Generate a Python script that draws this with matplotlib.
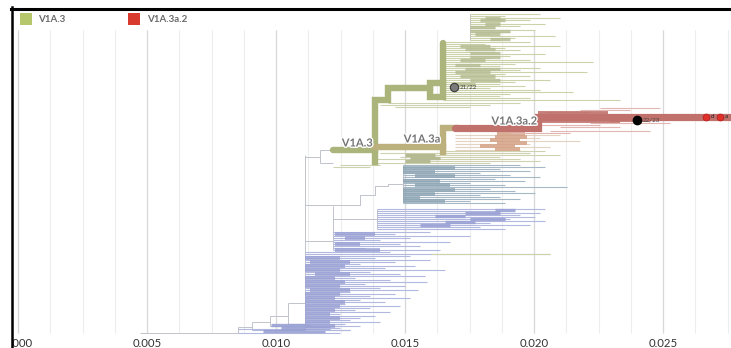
import numpy as np
import matplotlib
matplotlib.use("Agg")
import matplotlib.pyplot as plt
from matplotlib.lines import Line2D
from matplotlib.patches import Rectangle
import matplotlib.patheffects as pe

plt.rcParams['font.family'] = ['Lato', 'DejaVu Sans']

K = 1e-3  # all divergence values below are given in units of 0.001

# ---------------- axis / legend text ----------------
tick_values = [0.000, 0.005, 0.010, 0.015, 0.020, 0.025]
tick_labels = ["0.000", "0.005", "0.010", "0.015", "0.020", "0.025"]
legend_labels = ["V1A.3", "V1A.3a.2"]
clade_labels = ["V1A.3", "V1A.3a", "V1A.3a.2"]
node_labels = ["21/22", "22/23"]

# ---------------- green clade (V1A.3, upper) ----------------
green_node_a = 17.52
green_ends_a = [20.23, 18.88, 21.01, 19.84, 18.68, 20.43, 19.46, 18.49, 20.04, 19.07,
                18.29, 20.81, 19.26, 18.68]
green_node_b = 16.47
green_ends_b = [19.84, 18.10, 21.01, 18.88, 19.46, 18.49, 20.43, 19.07, 18.29, 19.84,
                22.29, 19.26, 18.68, 20.23, 19.46, 22.05, 18.88, 19.84, 18.49, 20.62,
                19.26, 18.68, 19.65, 18.29, 20.23, 21.51, 19.07, 18.68, 19.84, 23.33]
green_inner_row = [18, 20, 24, 27, 31, 34, 39, 46, 49, 53, 57, 60, 65, 69, 72, 76, 80, 84]
green_inner_x0 = [18.10, 17.91, 18.10, 17.52, 17.52, 17.71, 18.29, 17.13, 17.33, 17.52,
                  17.52, 17.13, 16.94, 17.33, 16.94, 17.13, 17.52, 16.94]
green_inner_x1 = [18.68, 18.88, 18.68, 18.49, 19.07, 18.68, 19.07, 18.29, 18.49, 18.68,
                  18.68, 18.10, 17.91, 18.68, 18.29, 18.49, 18.68, 17.71]

# ---------------- light olive lines around the V1A.3 backbone ----------------
olive_row = [103, 105, 107, 151, 153, 155, 157, 159, 161, 163, 165, 167]
olive_x0 = [14.34, 14.03, 14.61, 16.47, 14.03, 15.19, 14.81, 13.84, 15.00, 13.84, 12.48, 12.21]
olive_x1 = [19.46, 18.29, 17.52, 20.43, 19.84, 21.01, 18.68, 19.46, 20.23, 18.29, 14.03, 13.64]
olive_inner_row = [155, 158, 161]
olive_inner_x0 = [15.00, 15.19, 15.00]
olive_inner_x1 = [16.16, 16.36, 15.97]

# ---------------- backbone lineages ----------------
v1a3_x = [12.21, 13.84, 13.84, 14.34, 14.34, 15.97, 15.97, 16.47, 16.47]
v1a3_y = [150, 150, 100, 100, 88, 88, 83, 83, 43]
v1a3_box_x = [15.97, 15.97, 16.47, 16.47]
v1a3_box_y = [88, 97, 97, 83]
v1a3_down_x = [13.84, 13.84]
v1a3_down_y = [150, 162]
v1a3a_x = [13.84, 16.47, 16.47, 16.94]
v1a3a_y = [147, 147, 128, 128]
v1a3a_down_x = [16.47, 16.47]
v1a3a_down_y = [147, 152]
v1a3a2_x = [16.94, 20.16, 20.16, 27.60]
v1a3a2_y = [128, 128, 117, 117]

# ---------------- red clade (V1A.3a.2) ----------------
red_inner_row = [113, 121, 120]
red_inner_x0 = [20.16, 20.16, 22.95]
red_inner_x1 = [22.85, 23.33, 24.50]
red_tip_row = [108, 110, 112, 123, 125, 127, 131, 133]
red_tip_x0 = [22.56, 21.78, 20.43, 22.17, 20.23, 21.01, 20.62, 19.07]
red_tip_x1 = [24.88, 23.72, 22.17, 25.27, 22.56, 23.33, 24.50, 21.40]

# ---------------- orange subclade ----------------
orange_row = [134, 137, 140, 143, 146, 149]
orange_x0 = [18.57, 18.49, 18.29, 18.57, 17.91, 18.49]
orange_x1 = [19.65, 19.73, 19.46, 19.73, 19.26, 19.46]
tan_node = 16.94
tan_ends = [21.01, 20.23, 21.78, 19.84, 20.62, 19.46]

# ---------------- teal clade ----------------
teal_node = 14.92
teal_ends = [19.46, 20.43, 18.68, 19.84, 17.91, 19.07, 20.23, 18.49, 19.65, 17.52,
             18.88, 21.28, 18.29, 19.26, 20.04, 17.91, 18.68, 19.46, 17.52, 18.88]
teal_inner_row = [168, 172, 176, 181, 185, 190, 194, 198, 201]
teal_inner_x0 = [14.92, 14.92, 15.39, 14.92, 15.39, 14.92, 14.92, 14.92, 14.92]
teal_inner_x1 = [16.94, 16.16, 16.94, 16.36, 16.74, 16.94, 16.16, 15.58, 16.55]
teal_stem_x = [11.12, 13.26, 13.26, 13.84, 13.84, 14.34, 14.34, 14.92]
teal_stem_y = [205, 205, 195, 195, 186, 186, 184, 184]

# ---------------- blue clade ----------------
blue_node_a = 13.92
blue_ends_a = [20.43, 18.68, 20.23, 19.46, 20.04, 19.07, 20.43, 18.29, 19.84, 17.91, 18.88]
blue_inner_a_row = [210, 213, 216, 219, 222, 225]
blue_inner_a_x0 = [18.49, 17.33, 16.16, 17.52, 16.55, 15.58]
blue_inner_a_x1 = [19.26, 18.68, 17.33, 18.88, 17.71, 16.74]
blue_node_b1 = 12.21
blue_node_b2 = 11.12
blue_ends_b = [15.97, 14.61, 17.52, 15.19, 14.03, 16.74, 14.81, 15.58, 13.45, 16.36,
               14.42, 20.62, 15.19, 13.84, 15.97, 14.61, 13.26, 15.39, 14.22, 16.55,
               13.64, 14.81, 15.78, 13.06, 14.42, 15.85, 13.45, 15.00, 14.03, 15.50,
               12.87, 14.61, 13.64, 15.19, 13.26, 14.22, 12.67, 14.81, 13.64, 13.06,
               14.42, 12.48, 13.84, 13.26, 12.87, 14.03, 12.67, 13.26, 12.48, 12.87]
blue_inner_b_row = [234, 238, 244, 250, 258, 262, 266, 270, 274, 278, 282, 286, 290,
                    294, 298, 302, 306, 310, 314, 318, 322, 326]
blue_inner_b_x0 = [12.29, 12.67, 12.29, 12.29, 11.12, 11.32, 11.12, 11.12, 11.51, 11.12,
                   11.12, 11.12, 11.32, 11.12, 11.12, 11.12, 11.12, 11.12, 11.12, 11.12,
                   11.12, 11.12]
blue_inner_b_x1 = [13.84, 13.45, 13.26, 14.03, 12.48, 12.87, 12.67, 12.48, 12.87, 12.29,
                   12.67, 12.48, 12.87, 12.48, 12.29, 12.67, 12.48, 12.29, 12.09, 12.48,
                   12.09, 12.29]

# ---------------- basal backbone ----------------
basal_h_row = [333, 327, 322, 316, 303, 157, 150, 163, 241, 219]
basal_h_x0 = [4.73, 8.53, 9.07, 9.77, 10.47, 11.12, 11.71, 11.71, 11.12, 12.21]
basal_h_x1 = [8.53, 9.07, 9.77, 10.47, 11.12, 11.71, 12.21, 12.21, 12.21, 13.92]
basal_v_x = [8.53, 9.07, 9.77, 10.47, 11.12, 11.71, 12.21, 13.92, 17.52]
basal_v_y0 = [327, 322, 316, 303, 155, 150, 206, 209, 14]
basal_v_y1 = [333, 330, 326, 324, 330, 163, 250, 229, 40]
basal_tip_row = [333, 330, 326, 324, 329]
basal_tip_x0 = [8.53, 9.07, 9.77, 10.47, 8.53]
basal_tip_x1 = [12.48, 12.87, 12.48, 12.29, 11.71]
basal_inner_row = [331, 328, 325]
basal_inner_x0 = [9.50, 10.20, 9.80]
basal_inner_x1 = [11.90, 12.10, 11.30]

# ---------------- marked nodes ----------------
grey_node = (16.90, 87)
black_node = (23.99, 120)
red_nodes_x = [26.67, 27.21]
red_nodes_y = [117, 117]

# =================== drawing ===================
W, H = 731, 348
fig = plt.figure(figsize=(W / 100, H / 100), dpi=100)
ax = fig.add_axes([0, 13 / H, 1, 335 / H])
ax.set_xlim(-18 / 25800, 713 / 25800)
ax.set_ylim(335, 0)
for s in ax.spines.values():
    s.set_visible(False)
ax.set_yticks([])
ax.set_xticks(tick_values)
ax.set_xticklabels(tick_labels, fontsize=8.2, color='#333333')
ax.tick_params(axis='x', length=0, pad=2.2)

# grid
minor = np.arange(0, 0.0276, 0.00125)
ax.vlines(minor, 30, 333, color='#ededed', lw=0.8, zorder=0)
ax.vlines(tick_values, 30, 333, color='#d8d8d8', lw=0.9, zorder=0)


def rows(top, n, step=2):
    return top + step * np.arange(n)


def hl(r, x0, x1, color, lw, alpha=1.0, z=2):
    ax.hlines(r, np.asarray(x0) * K, np.asarray(x1) * K, color=color, lw=lw,
              alpha=alpha, zorder=z)


TIP = 0.8
INNER = 2.4
CONN = '#c0c2cc'
# basal / connectors
hl(basal_h_row, basal_h_x0, basal_h_x1, CONN, 0.7)
ax.vlines(np.asarray(basal_v_x) * K, basal_v_y0, basal_v_y1, color=CONN, lw=0.7, zorder=2)
hl(basal_tip_row, basal_tip_x0, basal_tip_x1, '#b2b8e0', TIP)
hl(basal_inner_row, basal_inner_x0, basal_inner_x1, '#98a0d3', INNER, 0.9)
ax.plot(np.asarray(teal_stem_x) * K, teal_stem_y, color=CONN, lw=0.7, zorder=2)

# blue clade
ra = rows(209, len(blue_ends_a))
hl(ra, np.full(len(ra), blue_node_a), blue_ends_a, '#b2b8e0', TIP)
hl(blue_inner_a_row, blue_inner_a_x0, blue_inner_a_x1, '#9aa1d4', INNER, 0.9)
rb = rows(232, len(blue_ends_b))
start_b = np.where(rb <= 250, blue_node_b1, blue_node_b2)
hl(rb, start_b, blue_ends_b, '#b2b8e0', TIP)
hl([254], [16.0], [20.62], '#cdd1a8', TIP)
hl(blue_inner_b_row, blue_inner_b_x0, blue_inner_b_x1, '#9aa1d4', INNER + 0.3, 0.85)

# teal clade
rt = rows(165, len(teal_ends))
ax.vlines(teal_node * K, rt[0], rt[-1], color=CONN, lw=0.7, zorder=2)
hl(rt, np.full(len(rt), teal_node), teal_ends, '#a6b8c5', TIP)
hl(teal_inner_row, teal_inner_x0, teal_inner_x1, '#8ea6b4', INNER + 0.3, 0.85)

# olive lines
hl(olive_row, olive_x0, olive_x1, '#cfd2b0', TIP)
hl(olive_inner_row, olive_inner_x0, olive_inner_x1, '#b6ba92', INNER)

# green clade
rga = rows(14, len(green_ends_a))
rgb = rows(42, len(green_ends_b))
hl(rga, np.full(len(rga), green_node_a), green_ends_a, '#ccd2aa', TIP)
hl(rgb, np.full(len(rgb), green_node_b), green_ends_b, '#ccd2aa', TIP)
hl(green_inner_row, green_inner_x0, green_inner_x1, '#b6bd94', INNER, 0.85)

# orange / tan
rtan = rows(135, len(tan_ends), 3)
hl(rtan, np.full(len(rtan), tan_node), tan_ends, '#e3d4c2', TIP)
hl(orange_row, orange_x0, orange_x1, '#d5a68a', INNER + 0.4, 0.9)

# red thin
hl(red_tip_row, red_tip_x0, red_tip_x1, '#e2b6b2', TIP)

# thick backbones
TH = 4.6
GREEN = '#aab47b'
TAN = '#bcb07d'
RED = '#c0716b'
ax.plot(np.asarray(v1a3_x) * K, v1a3_y, color=GREEN, lw=TH, solid_capstyle='round',
        solid_joinstyle='miter', zorder=4)
ax.plot(np.asarray(v1a3_box_x) * K, v1a3_box_y, color=GREEN, lw=TH,
        solid_joinstyle='miter', zorder=4)
ax.plot(np.asarray(v1a3_down_x) * K, v1a3_down_y, color=GREEN, lw=TH, zorder=4)
ax.plot(np.asarray(v1a3a_x) * K, v1a3a_y, color=TAN, lw=TH, solid_joinstyle='miter', zorder=4)
ax.plot(np.asarray(v1a3a_down_x) * K, v1a3a_down_y, color=TAN, lw=TH, zorder=4)
ax.plot(np.asarray(v1a3a2_x) * K, v1a3a2_y, color=RED, lw=TH + 0.6, solid_capstyle='round',
        solid_joinstyle='miter', zorder=4)
hl(red_inner_row, red_inner_x0, red_inner_x1, RED, 2.8, 0.9, z=4)

# clade labels
halo = [pe.withStroke(linewidth=2, foreground='white')]
ax.text(12.55 * K, 143, clade_labels[0], fontsize=8, fontweight='bold', color='#747474',
        va='center', ha='left', zorder=6, path_effects=halo)
ax.text(14.95 * K, 139, clade_labels[1], fontsize=8, fontweight='bold', color='#747474',
        va='center', ha='left', zorder=6, path_effects=halo)
ax.text(18.35 * K, 121, clade_labels[2], fontsize=8, fontweight='bold', color='#747474',
        va='center', ha='left', zorder=6, path_effects=halo)

# marked nodes
ax.plot(grey_node[0] * K, grey_node[1], 'o', ms=6, mfc='#7a7a7a', mec='#3a3a3a', mew=0.8, zorder=7)
ax.text(grey_node[0] * K + 0.00023, grey_node[1], node_labels[0], fontsize=4.5,
        color='#444444', va='center', zorder=7)
ax.plot(black_node[0] * K, black_node[1], 'o', ms=6, mfc='black', mec='black', zorder=7)
ax.text(black_node[0] * K + 0.00023, black_node[1], node_labels[1], fontsize=4.5,
        color='#444444', va='center', zorder=7)
ax.plot(np.asarray(red_nodes_x) * K, red_nodes_y, 'o', ms=5, mfc='#e0302a', mec='#b02020',
        mew=0.5, zorder=7)
ax.text(red_nodes_x[0] * K + 0.00018, red_nodes_y[0], 'd', fontsize=4.5, color='#222222',
        va='center', zorder=7)
ax.text(red_nodes_x[1] * K + 0.00018, red_nodes_y[1], 'a', fontsize=4.5, color='#222222',
        va='center', zorder=7)

# legend
def fx(px):
    return px / W


def fy(py):
    return 1 - py / H


fig.add_artist(Rectangle((fx(20), fy(25)), 12 / W, 12 / H, transform=fig.transFigure,
                         facecolor='#b5c66b', edgecolor='none', zorder=10))
fig.text(fx(38), fy(19), legend_labels[0], fontsize=7, fontweight='bold', color='#6a6a6a',
         va='center', ha='left', zorder=10)
fig.add_artist(Rectangle((fx(128), fy(25)), 12 / W, 12 / H, transform=fig.transFigure,
                         facecolor='#d83b2e', edgecolor='none', zorder=10))
fig.text(fx(147), fy(19), legend_labels[1], fontsize=7, fontweight='bold', color='#6a6a6a',
         va='center', ha='left', zorder=10)

# frame: white strip at left, black left and top borders
fig.add_artist(Rectangle((0, 0), fx(11.5), 1, transform=fig.transFigure,
                         facecolor='white', edgecolor='none', zorder=20))
fig.add_artist(Line2D([fx(12), fx(12)], [0, fy(7)], transform=fig.transFigure,
                      color='black', lw=1.8, zorder=21))
fig.add_artist(Line2D([fx(11.3), 1], [fy(8.5), fy(8.5)], transform=fig.transFigure,
                      color='black', lw=2.2, zorder=21))

fig.savefig('out.png', dpi=100)
